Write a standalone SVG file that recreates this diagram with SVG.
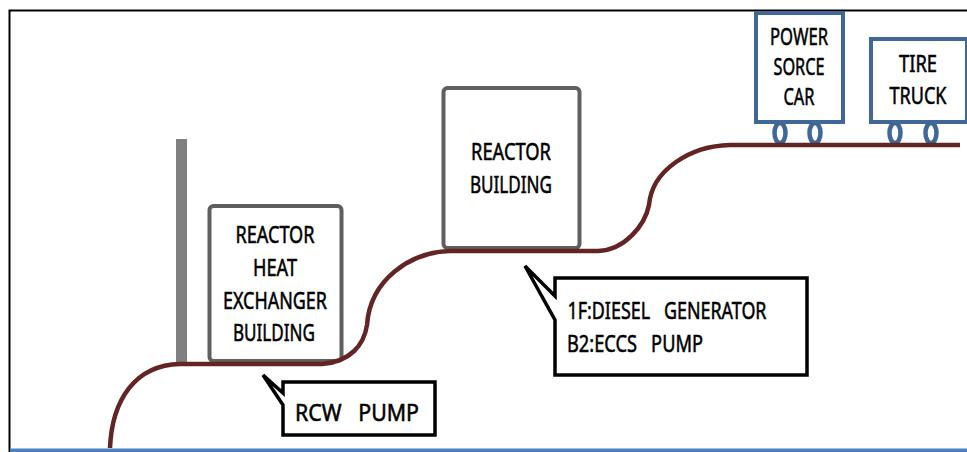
<svg xmlns="http://www.w3.org/2000/svg" width="967" height="452" viewBox="0 0 967 452">
<style>
text{font-family:"Noto Sans","Liberation Sans",sans-serif;font-size:23px;fill:#000;stroke:#000;stroke-width:.55;text-anchor:middle}
.b{fill:#fff;stroke:#5f5f5f;stroke-width:4}
.c{fill:#fff;stroke:#3f6797;stroke-width:4}
.w{fill:#fff;stroke:#3f6797;stroke-width:4.500}
.k{fill:#fff;stroke:#000;stroke-width:3.500;stroke-linejoin:miter}
</style>
<rect width="967" height="452" fill="#fff"/>
<path d="M9.500 452V10.500H967" fill="none" stroke="#000" stroke-width="2"/>
<rect x="10" y="448.500" width="957" height="3.500" fill="#4f81bd"/>
<rect x="176" y="139" width="11" height="224" fill="#808080"/>
<g id="heat-exchanger"><rect class="b" x="209.500" y="206" width="132" height="155" rx="4"/>
<text x="275" y="243" textLength="79" lengthAdjust="spacingAndGlyphs">REACTOR</text>
<text x="275" y="276" textLength="44" lengthAdjust="spacingAndGlyphs">HEAT</text>
<text x="275" y="309" textLength="104" lengthAdjust="spacingAndGlyphs">EXCHANGER</text>
<text x="274" y="341" textLength="82" lengthAdjust="spacingAndGlyphs">BUILDING</text></g>
<g id="reactor"><rect class="b" x="443.500" y="88" width="136" height="160" rx="4"/>
<text x="511" y="160" textLength="80" lengthAdjust="spacingAndGlyphs">REACTOR</text>
<text x="511" y="193" textLength="82" lengthAdjust="spacingAndGlyphs">BUILDING</text></g>
<g id="power-car"><ellipse class="w" cx="780" cy="133" rx="5.500" ry="10"/><ellipse class="w" cx="815" cy="133" rx="5.500" ry="10"/>
<rect class="c" x="756" y="13" width="87" height="109"/>
<text x="799" y="45" textLength="58" lengthAdjust="spacingAndGlyphs">POWER</text>
<text x="799" y="75" textLength="51" lengthAdjust="spacingAndGlyphs">SORCE</text>
<text x="799" y="105" textLength="31" lengthAdjust="spacingAndGlyphs">CAR</text></g>
<g id="tire-truck"><ellipse class="w" cx="895" cy="133" rx="5.500" ry="10"/><ellipse class="w" cx="931" cy="133" rx="5.500" ry="10"/>
<rect class="c" x="871" y="39" width="96" height="83"/>
<text x="918" y="72" textLength="38" lengthAdjust="spacingAndGlyphs">TIRE</text>
<text x="918" y="104" textLength="57" lengthAdjust="spacingAndGlyphs">TRUCK</text></g>
<g id="connectors">
<path d="M110 448C112 400 135 365 180 364H322C350 362 364 345 367 325C370 280 410 252 450 251H598C625 250 645 225 649 205C652 170 690 146 730 145H960" fill="none" stroke="#632523" stroke-width="4.500"/>
</g>
<g id="rcw-callout"><path class="k" d="M283 382H435V435H283V405L263 375L283 393Z"/>
<text x="357" y="421" textLength="124" lengthAdjust="spacingAndGlyphs" xml:space="preserve">RCW   PUMP</text></g>
<g id="diesel-callout"><path class="k" d="M555 278H807V375H555V320L525 266L555 296Z"/>
<text x="667" y="319" textLength="199" lengthAdjust="spacingAndGlyphs" xml:space="preserve">1F:DIESEL   GENERATOR</text>
<text x="635" y="352" textLength="136" lengthAdjust="spacingAndGlyphs" xml:space="preserve">B2:ECCS   PUMP</text></g>
</svg>
